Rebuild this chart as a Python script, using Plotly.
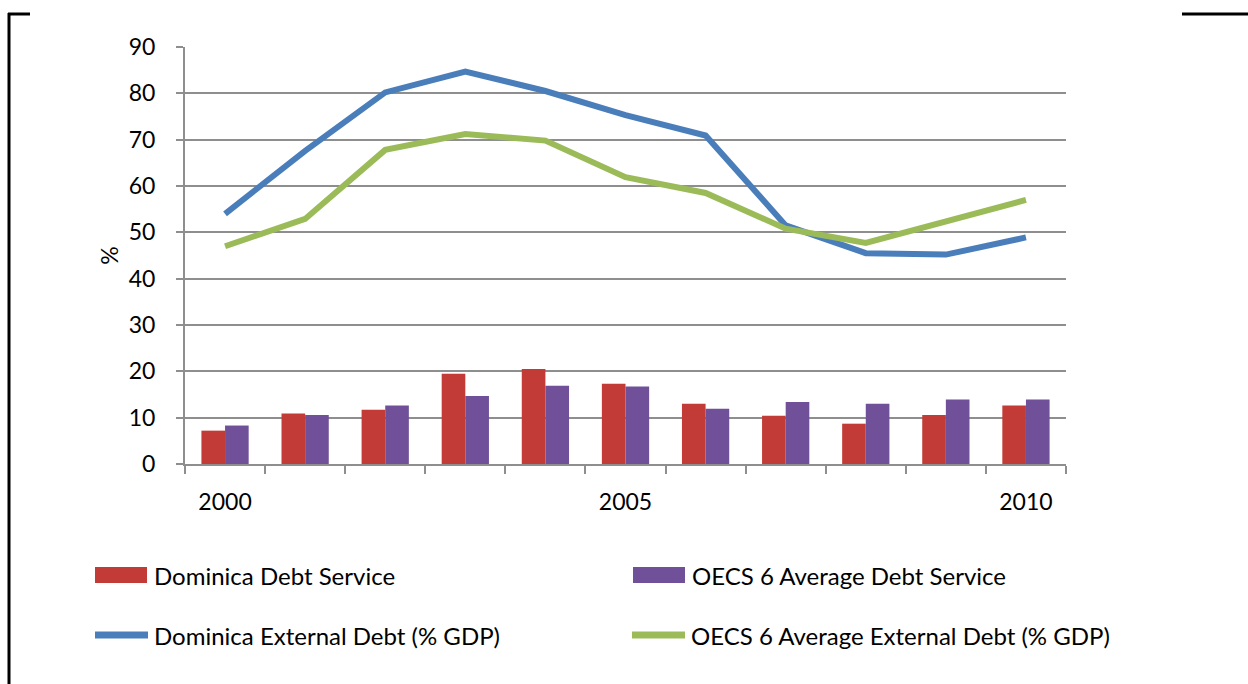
import plotly.graph_objects as go

# Years on the category axis
years = ["2000", "2001", "2002", "2003", "2004", "2005",
         "2006", "2007", "2008", "2009", "2010"]
year_labels = ["2000", "", "", "", "", "2005", "", "", "", "", "2010"]

# Debt service (% of exports)
dominica_debt_service = [7.2, 10.9, 11.7, 19.5, 20.5, 17.3, 13.0, 10.4, 8.7, 10.6, 12.6]
oecs_debt_service = [8.3, 10.6, 12.6, 14.7, 16.9, 16.7, 11.9, 13.4, 13.0, 13.9, 13.9]

# External debt (% of GDP)
dominica_external_debt = [54.0, 67.6, 80.2, 84.7, 80.5, 75.3, 70.9, 51.5, 45.5, 45.2, 48.9]
oecs_external_debt = [47.0, 52.9, 67.8, 71.2, 69.8, 61.9, 58.5, 50.8, 47.7, 52.2, 57.0]

series_names = ["Dominica Debt Service", "OECS 6 Average Debt Service",
                "Dominica External Debt (% GDP)", "OECS 6 Average External Debt (% GDP)"]

FONT = "Lato"
FS = 23
GRID = "#8e8e8e"
RED, PURPLE, BLUE, GREEN = "#c23b36", "#6f5099", "#4a7ebb", "#9bbb59"

W, H = 1248, 684
ML, MR, MT, MB = 185, 182, 47, 220
PW, PH = W - ML - MR, H - MT - MB


def px_x(x):
    return (x - ML) / PW


def px_y(y):
    return (H - MB - y) / PH


fig = go.Figure()

fig.add_trace(go.Bar(x=years, y=dominica_debt_service, name=series_names[0],
                     marker=dict(color=RED, line=dict(width=0))))
fig.add_trace(go.Bar(x=years, y=oecs_debt_service, name=series_names[1],
                     marker=dict(color=PURPLE, line=dict(width=0))))
fig.add_trace(go.Scatter(x=years, y=dominica_external_debt, name=series_names[2],
                         mode="lines", line=dict(color=BLUE, width=6)))
fig.add_trace(go.Scatter(x=years, y=oecs_external_debt, name=series_names[3],
                         mode="lines", line=dict(color=GREEN, width=6)))

shapes = []
annotations = []

# Outer frame pieces
frame = [
    dict(x0=9, x1=9, y0=13, y1=690),
    dict(x0=8, x1=30, y0=14, y1=14),
    dict(x0=1182, x1=1250, y0=14, y1=14),
]
for f in frame:
    shapes.append(dict(type="line", xref="paper", yref="paper",
                       x0=px_x(f["x0"]), x1=px_x(f["x1"]),
                       y0=px_y(f["y0"]), y1=px_y(f["y1"]),
                       line=dict(color="black", width=3)))

# Legend: two rows, two columns
legend_items = [
    (series_names[0], RED, "box", 95, 575),
    (series_names[1], PURPLE, "box", 633, 575),
    (series_names[2], BLUE, "line", 95, 635),
    (series_names[3], GREEN, "line", 632, 635),
]
for name, color, kind, x, y in legend_items:
    if kind == "box":
        shapes.append(dict(type="rect", xref="paper", yref="paper",
                           x0=px_x(x), x1=px_x(x + 52), y0=px_y(y - 8), y1=px_y(y + 8),
                           fillcolor=color, line=dict(width=0)))
    else:
        shapes.append(dict(type="line", xref="paper", yref="paper",
                           x0=px_x(x), x1=px_x(x + 53), y0=px_y(y), y1=px_y(y),
                           line=dict(color=color, width=7)))
    annotations.append(dict(text=name, xref="paper", yref="paper",
                            x=px_x(x + 57), y=px_y(y), xanchor="left", yanchor="middle",
                            showarrow=False, font=dict(family=FONT, size=24, color="black")))

fig.update_layout(
    width=W, height=H,
    margin=dict(l=ML, r=MR, t=MT, b=MB),
    paper_bgcolor="white", plot_bgcolor="white",
    barmode="group", bargap=0.41, bargroupgap=0,
    font=dict(family=FONT, size=FS, color="#000000"),
    showlegend=False,
    shapes=shapes,
    annotations=annotations,
    xaxis=dict(
        type="category", tickmode="array", tickvals=years, ticktext=year_labels,
        tickson="boundaries", ticks="outside", ticklen=8, tickwidth=2, tickcolor=GRID,
        showline=True, linecolor=GRID, linewidth=2, showgrid=False,
        ticklabelstandoff=16, tickfont=dict(family=FONT, size=FS),
    ),
    yaxis=dict(
        range=[0, 90], dtick=10, ticks="outside", ticklen=7, tickwidth=2, tickcolor=GRID,
        showline=True, linecolor=GRID, linewidth=2, showgrid=True, gridcolor=GRID,
        gridwidth=2, zeroline=False, ticklabelstandoff=16,
        tickfont=dict(family=FONT, size=FS),
        title=dict(text="%", font=dict(family=FONT, size=FS), standoff=4),
    ),
)

fig.write_html("out.html")
